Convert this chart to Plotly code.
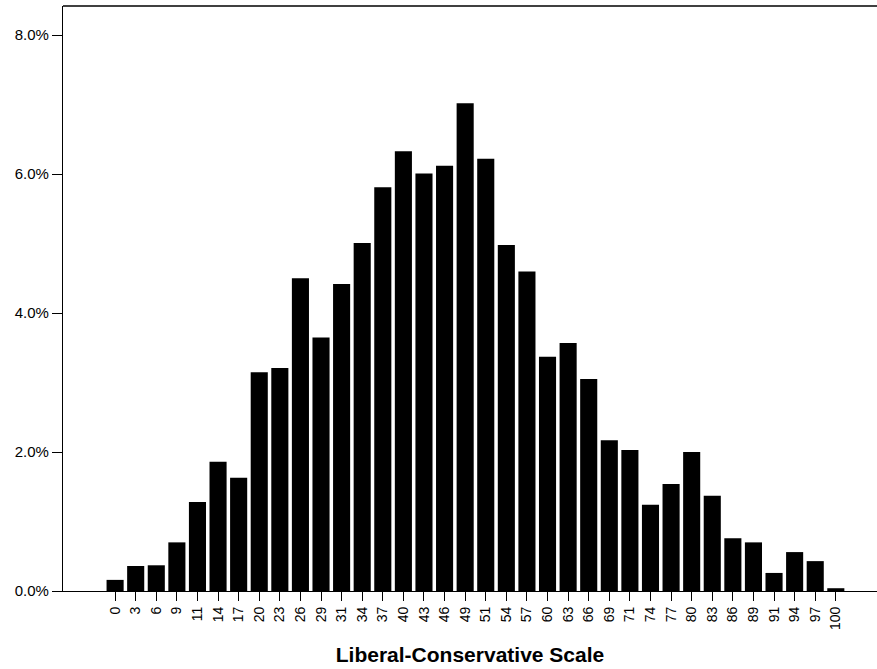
import plotly.graph_objects as go

# Liberal-conservative scale points and share of respondents (%)
scale_points = ["0", "3", "6", "9", "11", "14", "17", "20", "23", "26", "29", "31",
                "34", "37", "40", "43", "46", "49", "51", "54", "57", "60", "63", "66",
                "69", "71", "74", "77", "80", "83", "86", "89", "91", "94", "97", "100"]
share_pct = [0.16, 0.36, 0.37, 0.70, 1.28, 1.86, 1.63, 3.15, 3.21, 4.50, 3.65, 4.42,
             5.01, 5.81, 6.33, 6.01, 6.12, 7.02, 6.22, 4.98, 4.60, 3.37, 3.57, 3.05,
             2.17, 2.03, 1.24, 1.54, 2.00, 1.37, 0.76, 0.70, 0.26, 0.56, 0.43, 0.04]
y_ticks = [0, 2, 4, 6, 8]

FONT = "Liberation Sans, Arial, sans-serif"

fig = go.Figure(
    go.Bar(
        x=scale_points,
        y=share_pct,
        marker=dict(color="black", line=dict(width=0)),
        hovertemplate="%{x}: %{y:.2f}%<extra></extra>",
    )
)

fig.update_layout(
    width=877,
    height=669,
    margin=dict(l=63, r=0, t=6, b=78),
    paper_bgcolor="white",
    plot_bgcolor="white",
    bargap=0.17,
    showlegend=False,
    font=dict(family=FONT, color="black"),
    shapes=[
        dict(type="line", xref="paper", yref="paper", x0=0, x1=1, y0=1, y1=1,
             line=dict(color="black", width=1.3)),
    ],
)

fig.update_xaxes(
    type="category",
    range=[-2.53, 37.0],
    showgrid=False,
    zeroline=False,
    showline=True,
    linecolor="black",
    linewidth=1.3,
    ticks="outside",
    ticklen=9,
    tickwidth=1.3,
    tickcolor="black",
    tickangle=-90,
    tickfont=dict(family=FONT, size=14, color="black"),
    title=dict(text="<b>Liberal-Conservative Scale</b>",
               font=dict(family=FONT, size=21, color="black"), standoff=18),
)

fig.update_yaxes(
    range=[0, 8.42],
    tickvals=y_ticks,
    ticktext=[f"{v:.1f}%" for v in y_ticks],
    showgrid=False,
    zeroline=False,
    showline=True,
    linecolor="black",
    linewidth=1.3,
    ticks="outside",
    ticklen=10,
    tickwidth=1.3,
    tickcolor="black",
    tickfont=dict(family=FONT, size=15, color="black"),
)

fig.write_html("out.html")
